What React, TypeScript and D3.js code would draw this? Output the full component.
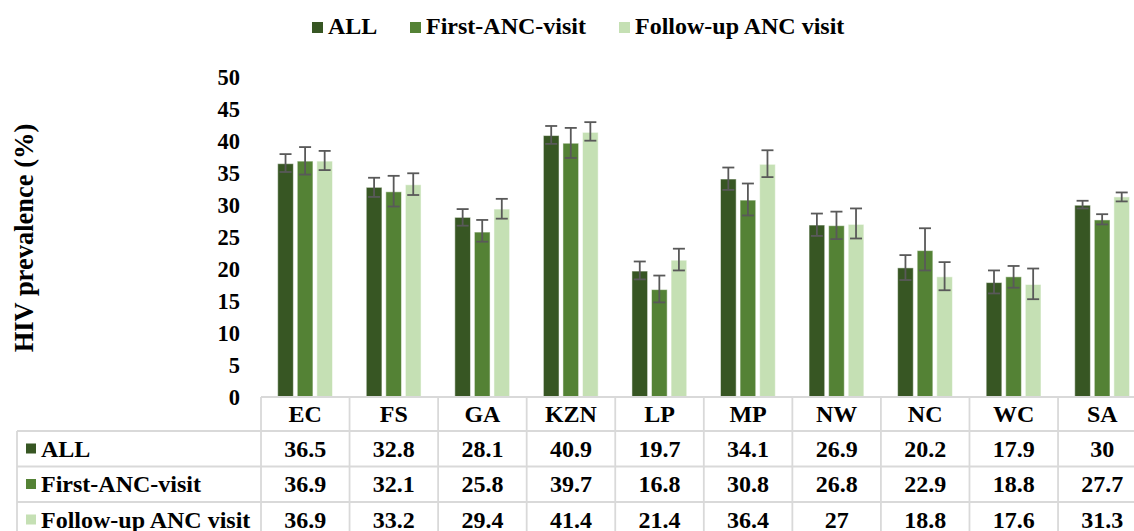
import React from 'react';
import * as d3 from 'd3';

const regions = ['EC', 'FS', 'GA', 'KZN', 'LP', 'MP', 'NW', 'NC', 'WC', 'SA'];
const seriesNames = ['ALL', 'First-ANC-visit', 'Follow-up ANC visit'];
const seriesColors = ['#375623', '#548235', '#C5E0B4'];

const allValues = [36.5, 32.8, 28.1, 40.9, 19.7, 34.1, 26.9, 20.2, 17.9, 30];
const firstValues = [36.9, 32.1, 25.8, 39.7, 16.8, 30.8, 26.8, 22.9, 18.8, 27.7];
const followValues = [36.9, 33.2, 29.4, 41.4, 21.4, 36.4, 27, 18.8, 17.6, 31.3];

// 95% CI bounds
const allLow = [35.2, 31.3, 26.8, 39.6, 18.4, 32.4, 25.2, 18.3, 16.2, 29.5];
const allHigh = [38.0, 34.3, 29.4, 42.4, 21.2, 35.9, 28.7, 22.2, 19.8, 30.7];
const firstLow = [34.8, 29.8, 24.3, 37.4, 14.8, 28.4, 24.7, 19.8, 17.1, 27.0];
const firstHigh = [39.1, 34.6, 27.7, 42.1, 19.0, 33.4, 29.0, 26.4, 20.5, 28.6];
const followLow = [35.5, 31.6, 27.9, 40.1, 19.8, 34.4, 24.8, 16.7, 15.3, 30.6];
const followHigh = [38.5, 35.0, 31.0, 43.0, 23.2, 38.6, 29.5, 21.1, 20.1, 32.0];

const yTicks = [0, 5, 10, 15, 20, 25, 30, 35, 40, 45, 50];

const W = 1134;
const H = 531;
const FONT = "'Liberation Serif', 'Times New Roman', serif";

const App: React.FC = () => {
  const values = [allValues, firstValues, followValues];
  const lows = [allLow, firstLow, followLow];
  const highs = [allHigh, firstHigh, followHigh];

  const plotLeft = 261;
  const colW = 88.56;
  const x0 = d3.scaleBand<string>().domain(regions).range([plotLeft, plotLeft + colW * regions.length]);
  const x1 = d3.scaleBand<string>().domain(seriesNames).range([16.7, 71.5]).paddingInner(0.2);
  const y = d3.scaleLinear().domain([0, 50]).range([397, 77.4]);

  const tableTop = 397;
  const rowLines = [431, 466.5, 502, 537.5];
  const tableLeft = 17;
  const grid = '#d9d9d9';

  const legendX = [312, 410, 619];

  return (
    <div>
      <style>{'body{margin:0}'}</style>
      <svg width={W} height={H} style={{ display: 'block' }} fontFamily={FONT} fontWeight="bold">
        <rect width={W} height={H} fill="#fff" />

        {/* legend */}
        {seriesNames.map((s, i) => (
          <g key={s}>
            <rect x={legendX[i]} y={22} width={11} height={11} fill={seriesColors[i]} />
            <text x={legendX[i] + 16} y={34} fontSize={24}>{s}</text>
          </g>
        ))}

        {/* y axis title */}
        <text transform={`translate(33,238) rotate(-90)`} textAnchor="middle" fontSize={26.5}>HIV prevalence (%)</text>

        {/* y ticks */}
        {yTicks.map(t => (
          <text key={t} x={240} y={y(t)} dy="0.34em" textAnchor="end" fontSize={22.5}>{t}</text>
        ))}

        {/* bars */}
        {regions.map((r, ri) => (
          <g key={r} transform={`translate(${x0(r)},0)`}>
            {seriesNames.map((s, si) => {
              const v = values[si][ri];
              const bx = x1(s) as number;
              const cx = bx + x1.bandwidth() / 2;
              return (
                <g key={s}>
                  <rect
                    x={bx}
                    y={y(v)}
                    width={x1.bandwidth()}
                    height={y(0) - y(v)}
                    fill={seriesColors[si]}
                    stroke="#ffffff"
                    strokeOpacity={0.5}
                    strokeWidth={1}
                  />
                  <g stroke="#595959" strokeWidth={1.8}>
                    <line x1={cx} x2={cx} y1={y(lows[si][ri])} y2={y(highs[si][ri])} />
                    <line x1={cx - 6} x2={cx + 6} y1={y(lows[si][ri])} y2={y(lows[si][ri])} />
                    <line x1={cx - 6} x2={cx + 6} y1={y(highs[si][ri])} y2={y(highs[si][ri])} />
                  </g>
                </g>
              );
            })}
          </g>
        ))}

        {/* data table grid */}
        <g stroke={grid} strokeWidth={1.8} fill="none">
          <line x1={plotLeft} x2={W + 20} y1={tableTop} y2={tableTop} />
          {rowLines.map((ly, i) => (
            <line key={i} x1={tableLeft} x2={W + 20} y1={ly} y2={ly} />
          ))}
          <line x1={tableLeft} x2={tableLeft} y1={rowLines[0]} y2={H + 10} />
          {regions.map(r => (
            <line key={r} x1={x0(r)} x2={x0(r)} y1={tableTop} y2={H + 10} />
          ))}
        </g>

        {/* header row */}
        {regions.map(r => (
          <text key={r} x={(x0(r) as number) + colW / 2} y={422} textAnchor="middle" fontSize={24}>{r}</text>
        ))}

        {/* value rows */}
        {seriesNames.map((s, si) => {
          const top = rowLines[si];
          const base = top + 25.5;
          return (
            <g key={s}>
              <rect x={26} y={top + 12.5} width={10} height={10} fill={seriesColors[si]} />
              <text x={41} y={base} fontSize={24}>{s}</text>
              {regions.map((r, ri) => (
                <text key={r} x={(x0(r) as number) + colW / 2} y={base} textAnchor="middle" fontSize={24}>
                  {values[si][ri]}
                </text>
              ))}
            </g>
          );
        })}
      </svg>
    </div>
  );
};

export default App;
